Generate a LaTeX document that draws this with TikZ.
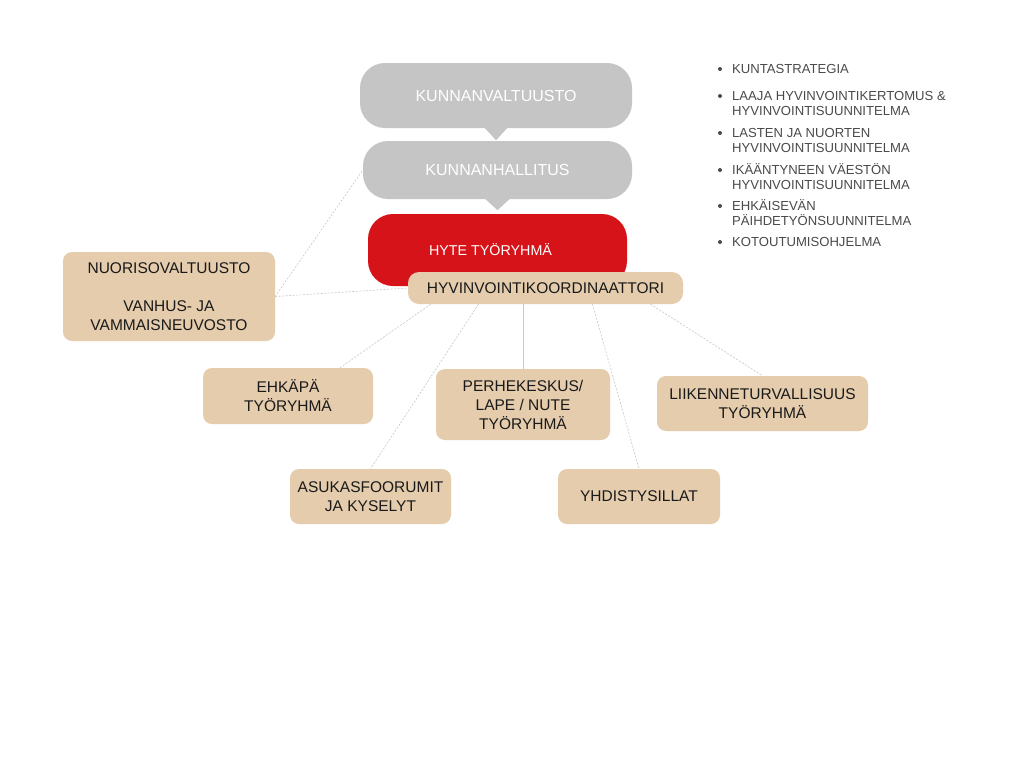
\documentclass[tikz,border=0pt]{standalone}
\usepackage{fontspec}
\setmainfont{Liberation Sans}
\definecolor{govgray}{HTML}{C5C5C5}
\definecolor{hytered}{HTML}{D7131A}
\definecolor{tanfill}{HTML}{E4CCAD}
\definecolor{darktext}{HTML}{1A1A1A}
\definecolor{listtext}{HTML}{4A4A4A}
\definecolor{linegray}{HTML}{C8C8C8}
\begin{document}
\begin{tikzpicture}[x=1pt,y=-1pt,
    govbox/.style={fill=govgray, text=white, rounded corners=25pt, inner sep=0pt,
      font=\fontsize{16}{19}\selectfont},
    groupbox/.style={fill=tanfill, text=darktext, rounded corners=9pt, inner sep=0pt,
      align=center, font=\fontsize{15.5}{19}\selectfont},
    link/.style={draw=linegray, line width=0.6pt, dash pattern=on 2pt off 1.5pt}]
    \fill[white] (0,0) rectangle (1024,768);
    \useasboundingbox (0,0) rectangle (1024,768);
    % hallinto
    \node[govbox, minimum width=272pt, minimum height=65pt] (kv) at (496,95.5) {KUNNANVALTUUSTO};
    \fill[govgray] ([xshift=-12pt,yshift=1pt]kv.south) -- ([xshift=12pt,yshift=1pt]kv.south) -- ([yshift=-12pt]kv.south) -- cycle;
    \node[govbox, minimum width=269pt, minimum height=58pt] (kh) at (497.5,170) {KUNNANHALLITUS};
    \fill[govgray] ([xshift=-13pt,yshift=1pt]kh.south) -- ([xshift=13pt,yshift=1pt]kh.south) -- ([yshift=-11pt]kh.south) -- cycle;
    \node[govbox, fill=hytered, minimum width=259pt, minimum height=72pt] (hyte) at (497.5,250) {};
    \node[text=white, inner sep=0pt, font=\fontsize{14.3}{17}\selectfont] (hytetext) at ([xshift=-7pt]hyte.center) {HYTE TYÖRYHMÄ};
    \node[groupbox, rounded corners=11pt, minimum width=275pt, minimum height=32pt] (hk) at (545.5,288) {HYVINVOINTIKOORDINAATTORI};
    % ryhmat
    \node[groupbox, minimum width=212pt, minimum height=89pt] (nv) at (169,296.5) {NUORISOVALTUUSTO\\[19pt]VANHUS- JA\\VAMMAISNEUVOSTO};
    \node[groupbox, minimum width=170pt, minimum height=56pt] (ehk) at (288,396) {EHKÄPÄ\\TYÖRYHMÄ};
    \node[groupbox, minimum width=174pt, minimum height=71pt] (perhe) at (523,404.5) {PERHEKESKUS/\\LAPE / NUTE\\TYÖRYHMÄ};
    \node[groupbox, minimum width=211pt, minimum height=55pt] (liik) at (762.5,403.5) {LIIKENNETURVALLISUUS\\TYÖRYHMÄ};
    \node[groupbox, minimum width=161pt, minimum height=55pt] (asuk) at (370.5,496.5) {ASUKASFOORUMIT\\JA KYSELYT};
    \node[groupbox, minimum width=162pt, minimum height=55pt] (yhd) at (639,496.5) {YHDISTYSILLAT};
    % yhteydet
    \draw[link] (nv.east) -- (kh.west);
    \draw[link] (nv.east) -- (hk.west);
    \draw[link] ([xshift=-115pt]hk.south) -- ([xshift=52pt]ehk.north);
    \draw[link] ([xshift=-67pt]hk.south) -- (asuk.north);
    \draw[draw=linegray, line width=0.6pt] (hk.south -| perhe.north) -- (perhe.north);
    \draw[link] ([xshift=47pt]hk.south) -- (yhd.north);
    \draw[link] ([xshift=105pt]hk.south) -- (liik.north);
    % suunnitelmat
    \foreach \y/\t [count=\i] in {69/KUNTASTRATEGIA, 96/LAAJA HYVINVOINTIKERTOMUS \&, 111/HYVINVOINTISUUNNITELMA,
        133/LASTEN JA NUORTEN, 148/HYVINVOINTISUUNNITELMA, 170/IKÄÄNTYNEEN VÄESTÖN, 185/HYVINVOINTISUUNNITELMA,
        206/EHKÄISEVÄN, 221/PÄIHDETYÖNSUUNNITELMA, 242/KOTOUTUMISOHJELMA}
      \node[anchor=base west, inner sep=0pt, text=listtext, font=\fontsize{13.1}{15}\selectfont] (plan\i) at (732,\y+4.7) {\t};
    \foreach \y in {69,96,133,170,206,242} \fill[listtext] (720,\y) circle (2pt);
\end{tikzpicture}
\end{document}
